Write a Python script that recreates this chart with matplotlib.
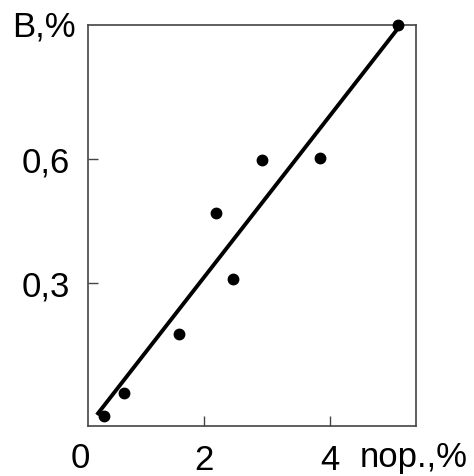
import numpy as np
import matplotlib
matplotlib.use("Agg")
import matplotlib.pyplot as plt

# Data
porosity = [0.41, 0.73, 1.60, 2.19, 2.46, 2.92, 3.84, 5.09]
b_values = [-0.022, 0.033, 0.178, 0.469, 0.309, 0.599, 0.603, 0.925]

# fitted line end points
fit_x = [0.30, 5.11]
fit_y = [-0.019, 0.922]

x_ticks = [2, 4]
x_tick_labels = ["2", "4"]
y_ticks = [0.3, 0.6]
y_tick_labels = ["0,3", "0,6"]

plt.rcParams['font.family'] = ['Liberation Sans', 'DejaVu Sans']

fig = plt.figure(figsize=(4.74, 4.76), dpi=100)
ax = fig.add_axes([0.1857, 0.105, 0.6919, 0.8425])

ax.plot(fit_x, fit_y, color="black", linewidth=2.8, solid_capstyle="butt", zorder=2)
ax.plot(porosity, b_values, "o", color="black", markersize=7.5, zorder=3, clip_on=False)

ax.set_xlim(0.16, 5.37)
ax.set_ylim(-0.046, 0.925)

ax.set_xticks(x_ticks)
ax.set_xticklabels(x_tick_labels)
ax.set_yticks(y_ticks)
ax.set_yticklabels(y_tick_labels)

ax.tick_params(direction="in", length=7, width=1, color="#444444", labelsize=25, pad=13)
for spine in ax.spines.values():
    spine.set_color("#444444")
    spine.set_linewidth(1.2)

# "0" label sits outside the axes at x = 0
ax.text(0.03, -0.085, "0", ha="center", va="top", fontsize=25, clip_on=False)

# axis labels placed like in the original
fig.text(12 / 474, 1 - 27 / 476, "B,%", ha="left", va="center", fontsize=25)
fig.text(360 / 474, 1 - 458 / 476, "nop.,%", ha="left", va="center", fontsize=25)

fig.savefig("out.png", dpi=100)
